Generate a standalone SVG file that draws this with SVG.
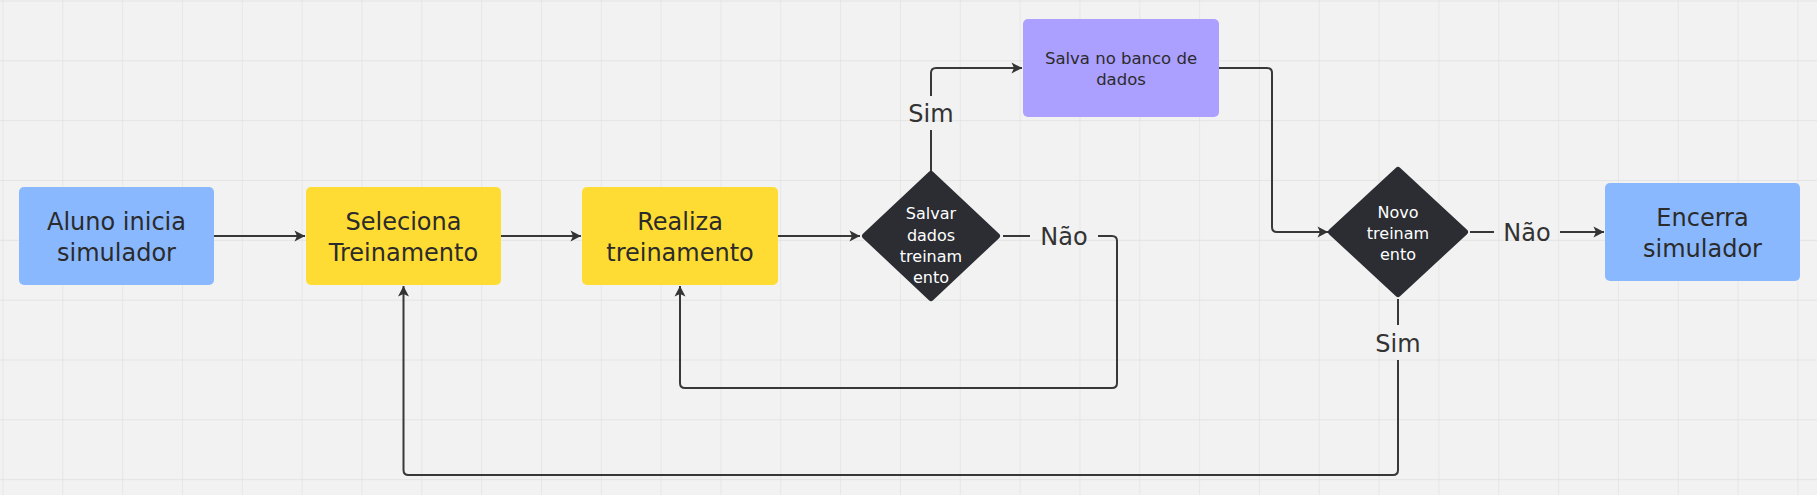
<svg xmlns="http://www.w3.org/2000/svg" width="1817" height="495" viewBox="0 0 1817 495">
<style>
.t{font-family:"DejaVu Sans","Liberation Sans",sans-serif;fill:#2b2b2b;text-anchor:middle}
.n{font-size:24px}
.s{font-size:16px}
.p{font-size:16.5px}
.w{fill:#ffffff}
.lbl{font-family:"DejaVu Sans","Liberation Sans",sans-serif;font-size:24px;fill:#333333;text-anchor:middle}
.c{fill:none;stroke:#383838;stroke-width:2}
.a{marker-end:url(#arr)}
</style>
<defs>
<pattern id="grid" patternUnits="userSpaceOnUse" x="2.5" y="0.5" width="59.83" height="59.83">
<path d="M0,0 V59.83 M0,0 H59.83" fill="none" stroke="#e0e0e0" stroke-width="1.3"/>
</pattern>
<marker id="arr" markerUnits="userSpaceOnUse" markerWidth="13" markerHeight="13" refX="11.5" refY="6.5" orient="auto">
<path d="M1,1 L11.5,6.5 L1,12 L3.5,6.5 Z" fill="#333333"/>
</marker>
</defs>
<rect width="1817" height="495" fill="#f2f2f2"/>
<rect width="1817" height="495" fill="url(#grid)"/>

<g id="connectors">
<path class="c a" d="M214,236 H305"/>
<path class="c a" d="M501,236 H581"/>
<path class="c a" d="M778,236 H860"/>
<path class="c" d="M931,171 V130"/>
<path class="c a" d="M931,96 V73 Q931,68 936,68 H1022"/>
<path class="c" d="M1003,236 H1030"/>
<path class="c a" d="M1098,236 H1112 Q1117,236 1117,241 V383 Q1117,388 1112,388 H685 Q680,388 680,383 V286"/>
<path class="c a" d="M1219,68 H1267 Q1272,68 1272,73 V227 Q1272,232 1277,232 H1328"/>
<path class="c" d="M1470,232 H1494"/>
<path class="c a" d="M1560,232 H1604"/>
<path class="c" d="M1398,299 V325"/>
<path class="c a" d="M1398,360 V470 Q1398,475 1393,475 H408.5 Q403.5,475 403.5,470 V286"/>
<text class="lbl" x="931" y="122">Sim</text>
<text class="lbl" x="1064" y="245">Não</text>
<text class="lbl" x="1527" y="241">Não</text>
<text class="lbl" x="1398" y="352">Sim</text>
</g>

<g id="aluno">
<rect x="19" y="187" width="195" height="98" rx="5" fill="#8ab8ff"/>
<text class="t n" x="116.5" y="230">Aluno inicia</text>
<text class="t n" x="116.5" y="261">simulador</text>
</g>

<g id="seleciona">
<rect x="306" y="187" width="195" height="98" rx="5" fill="#ffdc33"/>
<text class="t n" x="403.5" y="230">Seleciona</text>
<text class="t n" x="403.5" y="261">Treinamento</text>
</g>

<g id="realiza">
<rect x="582" y="187" width="196" height="98" rx="5" fill="#ffdc33"/>
<text class="t n" x="680" y="230">Realiza</text>
<text class="t n" x="680" y="261">treinamento</text>
</g>

<g id="salvar">
<polygon points="931,174 997,236 931,298 865,236" fill="#2b2d33" stroke="#2b2d33" stroke-width="6" stroke-linejoin="round"/>
<text class="t s w" x="931" y="219">Salvar</text>
<text class="t s w" x="931" y="241">dados</text>
<text class="t s w" x="931" y="262">treinam</text>
<text class="t s w" x="931" y="283">ento</text>
</g>

<g id="banco">
<rect x="1023" y="19" width="196" height="98" rx="5" fill="#ab9fff"/>
<text class="t p" x="1121" y="64">Salva no banco de</text>
<text class="t p" x="1121" y="85">dados</text>
</g>

<g id="novo">
<polygon points="1398,170 1465,232 1398,294 1331,232" fill="#2b2d33" stroke="#2b2d33" stroke-width="6" stroke-linejoin="round"/>
<text class="t s w" x="1398" y="218">Novo</text>
<text class="t s w" x="1398" y="239">treinam</text>
<text class="t s w" x="1398" y="260">ento</text>
</g>

<g id="encerra">
<rect x="1605" y="183" width="195" height="98" rx="5" fill="#8ab8ff"/>
<text class="t n" x="1702.5" y="226">Encerra</text>
<text class="t n" x="1702.5" y="257">simulador</text>
</g>
</svg>
